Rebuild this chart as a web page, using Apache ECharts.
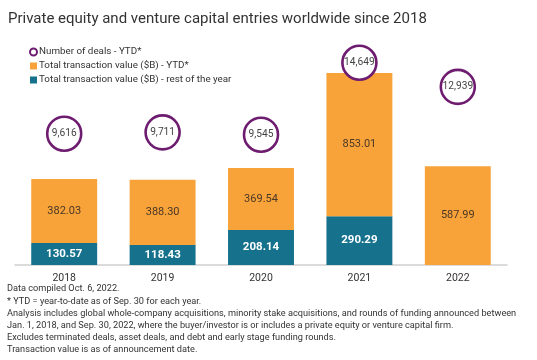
<!DOCTYPE html>
<html><head><meta charset="utf-8">
<script src="https://cdn.jsdelivr.net/npm/echarts@6/dist/echarts.min.js"></script>
<style>html,body{margin:0;padding:0;background:#fff}#c{width:537px;height:360px}</style>
</head><body><div id="c"></div>
<script>
const categories = ['2018','2019','2020','2021','2022'];
const ytdValues = [382.03, 388.30, 369.54, 853.01, 587.99];
const restValues = [130.57, 118.43, 208.14, 290.29, null];
const dealCounts = [9616, 9711, 9545, 14649, 12939];
const titleText = 'Private equity and venture capital entries worldwide since 2018';
const footLines = [
 'Data compiled Oct. 6, 2022.',
 '* YTD = year-to-date as of Sep. 30 for each year.',
 'Analysis includes global whole-company acquisitions, minority stake acquisitions, and rounds of funding announced between',
 'Jan. 1, 2018, and Sep. 30, 2022, where the buyer/investor is or includes a private equity or venture capital firm.',
 'Excludes terminated deals, asset deals, and debt and early stage funding rounds.',
 'Transaction value is as of announcement date.'
];
const NAME_DEALS = 'Number of deals - YTD*';
const NAME_YTD = 'Total transaction value ($B) - YTD*';
const NAME_REST = 'Total transaction value ($B) - rest of the year';
const ORANGE = '#F8A23A', TEAL = '#16718D', PURPLE = '#6E1C70';
const FONT = 'Roboto';

const chart = echarts.init(document.getElementById('c'), null, {renderer:'canvas'});
chart.setOption({
  backgroundColor:'#fff',
  animation:false,
  textStyle:{fontFamily:FONT},
  title:[
    {text:titleText, left:3, top:7, textStyle:{fontFamily:FONT, fontSize:15, fontWeight:'normal', color:'#333'}},
    {text:footLines.join('\n'), left:2, top:278, textStyle:{fontFamily:FONT, fontSize:9.2, fontWeight:'normal', color:'#333', lineHeight:12.2}}
  ],
  legend:{
    orient:'vertical', left:24, top:42, itemGap:4, itemWidth:7, itemHeight:7,
    textStyle:{fontFamily:FONT, fontSize:9.8, color:'#333', padding:[0,0,0,-3]},
    data:[
      {name:NAME_DEALS, icon:'circle', itemStyle:{color:'#fff', borderColor:PURPLE, borderWidth:2}},
      {name:NAME_YTD, icon:'rect'},
      {name:NAME_REST, icon:'rect'}
    ]
  },
  grid:{left:15, right:30, top:55, bottom:95},
  xAxis:{type:'category', data:categories,
    axisLine:{lineStyle:{color:'#cfcfcf', width:1.5}}, axisTick:{show:false},
    axisLabel:{color:'#333', fontSize:10.5, margin:8, fontFamily:FONT}},
  yAxis:[
    {type:'value', min:0, max:1250, show:false, splitLine:{show:false}},
    {type:'value', min:300, max:15200, show:false, splitLine:{show:false}}
  ],
  series:[
    {name:NAME_REST, type:'bar', stack:'v', data:restValues, barWidth:'67%',
      itemStyle:{color:TEAL},
      label:{show:true, position:'inside', color:'#fff', fontWeight:'bold', fontSize:11.5, fontFamily:FONT,
        formatter:p=>p.value==null?'':p.value.toFixed(2)}},
    {name:NAME_YTD, type:'bar', stack:'v', data:ytdValues, barWidth:'67%',
      itemStyle:{color:ORANGE},
      label:{show:true, position:'inside', color:'#4a3826', fontSize:11, fontFamily:FONT,
        formatter:p=>p.value.toFixed(2)}},
    {name:NAME_DEALS, type:'scatter', yAxisIndex:1, data:dealCounts, symbol:'circle', symbolSize:34, z:5,
      itemStyle:{color:'#fff', borderColor:PURPLE, borderWidth:2.6, opacity:1},
      label:{show:true, position:'inside', color:'#444', fontSize:10.2, fontFamily:FONT,
        formatter:p=>p.value.toLocaleString('en-US')}}
  ]
});
</script></body></html>
